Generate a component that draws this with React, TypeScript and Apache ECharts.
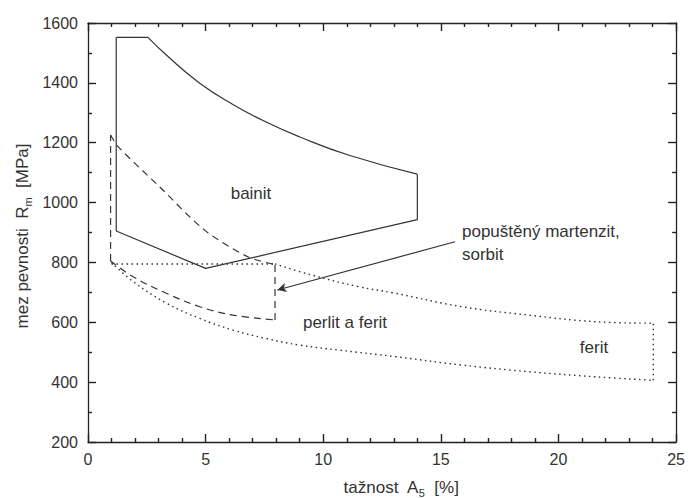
import React, { useEffect, useRef } from "react";
import * as echarts from "echarts";

// x: tažnost A5 [%], y: mez pevnosti Rm [MPa]
const xTicks = [0, 5, 10, 15, 20, 25];
const yTicks = [200, 400, 600, 800, 1000, 1200, 1400, 1600];
const xMinorStep = 1;
const yMinorStep = 100;

// bainit (solid)
const bainitTop = [[1.2, 1552], [2.55, 1552]];
const bainitCurve = [[2.55, 1552], [3.33, 1493], [4.75, 1399], [6.16, 1328], [7.57, 1269], [8.98, 1220], [11.1, 1158], [14, 1095]];
const bainitRest = [[14, 1095], [14, 943], [5, 780], [1.2, 905], [1.2, 1552]];

// popuštěný martenzit, sorbit (dashed)
const martLeft = [[0.96, 805], [0.96, 1226]];
const martUpper = [[0.96, 1226], [1.28, 1187], [3, 1056], [4.96, 908], [6.79, 819], [7.95, 793]];
const martRight = [[7.95, 608], [7.95, 793]];
const martLower = [[0.96, 805], [1.92, 752], [3.33, 697], [4.75, 652], [6.16, 624], [7.95, 608]];

// perlit a ferit, ferit (dotted)
const perlitTop = [[1.0, 795], [7.95, 795]];
const perlitUpper = [[7.95, 795], [9.5, 758], [11.5, 719], [13, 698], [15.9, 652], [18.73, 624], [21.55, 602], [24.03, 597]];
const perlitLower = [[1.0, 800], [1.92, 736], [3.33, 664], [4.75, 613], [6.16, 574], [7.57, 546], [8.98, 524], [10.68, 507], [13.08, 485], [15.9, 457], [18.73, 435], [21.55, 418], [24.03, 406]];
const feritRight = [[24.03, 406], [24.03, 597]];

// arrow pointing to the martenzit region
const arrowFrom = [15.6, 869];
const arrowTo = [8.05, 708];

const FONT = "'Liberation Sans', Arial, sans-serif";
const INK = "#333";
const AXIS = "#222";

const GRID = { left: 88, right: 10, top: 23, bottom: 56 };
const W = 688;
const H = 498;

export default function App() {
  const ref = useRef<HTMLDivElement>(null);
  useEffect(() => {
    if (!ref.current) return;
    const chart = echarts.init(ref.current, undefined, { renderer: "svg" });
    const xMin = xTicks[0], xMax = xTicks[xTicks.length - 1];
    const yMin = yTicks[0], yMax = yTicks[yTicks.length - 1];

    // convert tick lengths in pixels into data units of the axes
    const plotW = W - GRID.left - GRID.right;
    const plotH = H - GRID.top - GRID.bottom;
    const pxX = (xMax - xMin) / plotW;
    const pxY = (yMax - yMin) / plotH;
    const MAJOR = 8, MINOR = 4;

    const tickSegs: any[] = [];
    for (let v = xMin; v <= xMax + 1e-9; v += xMinorStep) {
      const len = (xTicks.includes(v) ? MAJOR : MINOR) * pxY;
      tickSegs.push([{ coord: [v, yMin] }, { coord: [v, yMin + len] }]);
      tickSegs.push([{ coord: [v, yMax] }, { coord: [v, yMax - len] }]);
    }
    for (let v = yMin; v <= yMax + 1e-9; v += yMinorStep) {
      const len = (yTicks.includes(v) ? MAJOR : MINOR) * pxX;
      tickSegs.push([{ coord: [xMin, v] }, { coord: [xMin + len, v] }]);
      tickSegs.push([{ coord: [xMax, v] }, { coord: [xMax - len, v] }]);
    }

    const lineBase = (data: number[][], type: any, smooth: number | boolean, width = 1.2) => ({
      type: "line",
      data,
      showSymbol: false,
      symbol: "none",
      smooth,
      silent: true,
      lineStyle: { color: INK, width, type },
    });
    const mkAxis = (extra: any) => ({
      type: "value",
      axisLine: { show: true, onZero: false, lineStyle: { color: AXIS, width: 1.3 } },
      axisTick: { show: false },
      splitLine: { show: false },
      ...extra,
    });
    chart.setOption({
      animation: false,
      grid: GRID,
      xAxis: [
        mkAxis({
          min: xMin, max: xMax, interval: 5,
          axisLabel: { color: INK, fontSize: 16, fontFamily: FONT, margin: 9, formatter: (v: number) => String(v) },
        }),
        mkAxis({ position: "top", min: xMin, max: xMax, interval: 5, axisLabel: { show: false } }),
      ],
      yAxis: [
        mkAxis({
          min: yMin, max: yMax, interval: 200,
          axisLabel: { color: INK, fontSize: 16, fontFamily: FONT, margin: 10, formatter: (v: number) => String(v) },
        }),
        mkAxis({ position: "right", min: yMin, max: yMax, interval: 200, axisLabel: { show: false } }),
      ],
      series: [
        {
          type: "line",
          data: [],
          silent: true,
          markLine: {
            silent: true,
            symbol: ["none", "none"],
            label: { show: false },
            lineStyle: { color: AXIS, width: 1.4, type: "solid" },
            data: tickSegs,
          },
        },
        lineBase(bainitTop, "solid", false),
        lineBase(bainitCurve, "solid", 0.5),
        lineBase(bainitRest, "solid", false),
        lineBase(martLeft, [7, 5], false),
        lineBase(martUpper, [7, 5], 0.3),
        lineBase(martRight, [7, 5], false),
        lineBase(martLower, [7, 5], 0.4),
        lineBase(perlitTop, [1.5, 3.5], false, 1.4),
        lineBase(perlitUpper, [1.5, 3.5], 0.4, 1.4),
        lineBase(perlitLower, [1.5, 3.5], 0.4, 1.4),
        lineBase(feritRight, [1.5, 3.5], false, 1.4),
        {
          type: "line",
          data: [],
          silent: true,
          markLine: {
            silent: true,
            symbol: ["none", "arrow"],
            symbolSize: [7, 9],
            label: { show: false },
            lineStyle: { color: INK, width: 1.2, type: "solid" },
            data: [[{ coord: arrowFrom }, { coord: arrowTo }]],
          },
        },
      ],
      graphic: [
        { type: "text", x: 251, y: 193, style: { text: "bainit", font: `17px ${FONT}`, fill: INK, align: "center", verticalAlign: "middle" } },
        { type: "text", x: 462, y: 231, style: { text: "popuštěný martenzit,", font: `17px ${FONT}`, fill: INK, align: "left", verticalAlign: "middle" } },
        { type: "text", x: 462, y: 254, style: { text: "sorbit", font: `17px ${FONT}`, fill: INK, align: "left", verticalAlign: "middle" } },
        { type: "text", x: 345, y: 322, style: { text: "perlit a ferit", font: `17px ${FONT}`, fill: INK, align: "center", verticalAlign: "middle" } },
        { type: "text", x: 594, y: 347, style: { text: "ferit", font: `17px ${FONT}`, fill: INK, align: "center", verticalAlign: "middle" } },
        {
          type: "text", x: 401, y: 487,
          style: {
            text: "{a|tažnost  A}{b|5}{a|  [%]}",
            align: "center", verticalAlign: "middle",
            rich: {
              a: { fontSize: 17, fontFamily: FONT, fill: INK, color: INK, lineHeight: 22 },
              b: { fontSize: 11, fontFamily: FONT, fill: INK, color: INK, lineHeight: 22, verticalAlign: "bottom" },
            },
          },
        },
        {
          type: "text", x: 22, y: 236, rotation: Math.PI / 2,
          style: {
            text: "{a|mez pevnosti  R}{b|m}{a|  [MPa]}",
            align: "center", verticalAlign: "middle",
            rich: {
              a: { fontSize: 17, fontFamily: FONT, fill: INK, color: INK, lineHeight: 22 },
              b: { fontSize: 11, fontFamily: FONT, fill: INK, color: INK, lineHeight: 22, verticalAlign: "bottom" },
            },
          },
        },
      ],
    });
    return () => chart.dispose();
  }, []);
  return <div ref={ref} style={{ position: "fixed", left: 0, top: 0, width: W, height: H, background: "#fff" }} />;
}
